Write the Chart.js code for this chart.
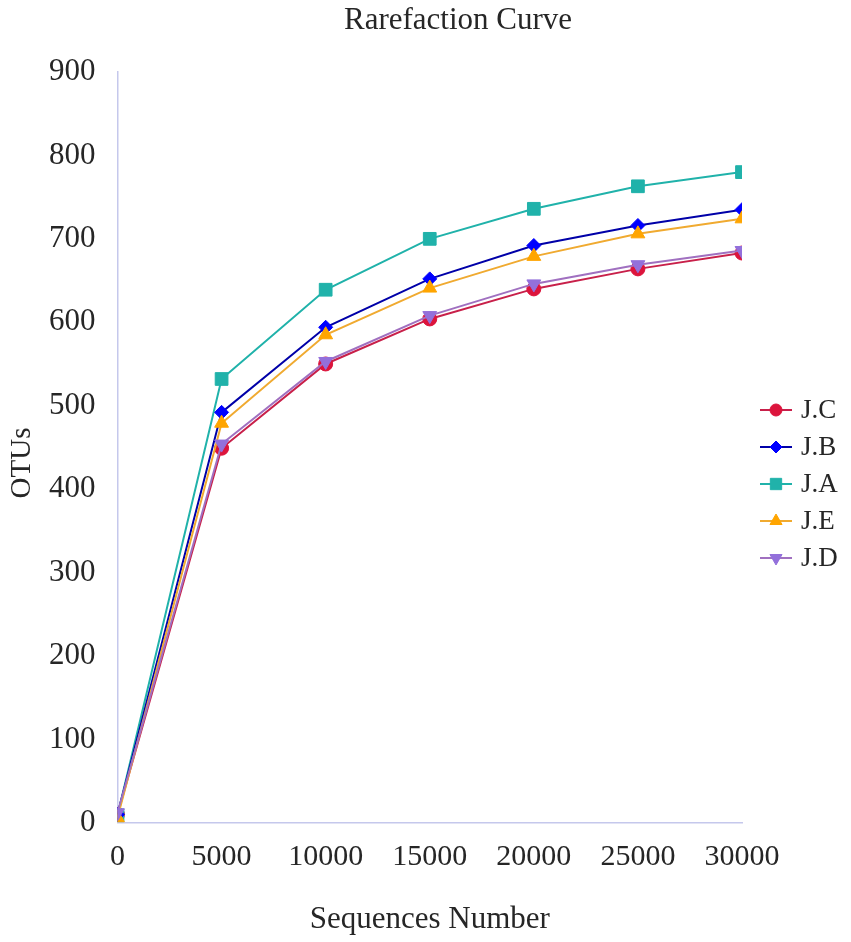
<!DOCTYPE html>
<html>
<head>
<meta charset="utf-8">
<script src="https://cdn.jsdelivr.net/npm/chart.js@4"></script>
<style>
    html, body { margin: 0; padding: 0; background: #fff; }
    #wrap { width: 851px; height: 942px; }
</style>
</head>
<body>
<div id="wrap"><canvas id="rarefactionChart" width="851" height="942"></canvas></div>
<script>
// sequencing depth (x axis)
const seqNumbers = [0, 5000, 10000, 15000, 20000, 25000, 30000];

// OTU counts per sample
const otuJC = [10, 449, 550, 604, 640, 664, 683];
const otuJB = [10, 492, 594, 652, 692, 716, 735];
const otuJA = [9, 532, 639, 700, 736, 763, 780];
const otuJE = [6, 479, 585, 641, 679, 706, 724];
const otuJD = [12, 454, 553, 608, 646, 669, 686];

const sampleNames = ["J.C", "J.B", "J.A", "J.E", "J.D"];
const yTicks = [0, 100, 200, 300, 400, 500, 600, 700, 800, 900];
const xTicks = seqNumbers;

const FONT = "'Liberation Serif', 'Times New Roman', serif";
const TEXT = "#262626";

function toPoints(values) {
    return seqNumbers.map((x, i) => ({ x, y: values[i] }));
}

/* ==========================
   TITLE, Y TITLE + LEGEND
========================== */
const decorations = {
    id: "decorations",
    afterDraw(chart) {
        const ctx = chart.ctx;
        const area = chart.chartArea;

        // title sits a bit right of centre, like the source figure
        ctx.save();
        ctx.fillStyle = TEXT;
        ctx.font = "31px " + FONT;
        ctx.textAlign = "center";
        ctx.textBaseline = "middle";
        ctx.fillText("Rarefaction Curve", 458, 21);

        ctx.translate(22, 463);
        ctx.rotate(-Math.PI / 2);
        ctx.font = "29px " + FONT;
        ctx.fillText("OTUs", 0, 0);
        ctx.restore();

        const x0 = area.right + 18;
        const startY = 410;
        const step = 37;
        chart.data.datasets.forEach((ds, i) => {
            const y = startY + i * step;
            ctx.save();
            ctx.strokeStyle = ds.borderColor;
            ctx.lineWidth = 2;
            ctx.beginPath();
            ctx.moveTo(x0, y);
            ctx.lineTo(x0 + 32, y);
            ctx.stroke();
            ctx.fillStyle = ds.pointBackgroundColor;
            ctx.strokeStyle = ds.pointBackgroundColor;
            ctx.lineWidth = 1;
            Chart.helpers.drawPoint(ctx, {
                pointStyle: ds.pointStyle,
                rotation: ds.pointRotation || 0,
                radius: ds.pointRadius - 1,
                borderWidth: 1
            }, x0 + 16, y);
            ctx.fillStyle = TEXT;
            ctx.font = "27px " + FONT;
            ctx.textBaseline = "middle";
            ctx.textAlign = "left";
            ctx.fillText(ds.label, x0 + 41, y + 1);
            ctx.restore();
        });
    }
};

function makeDataset(label, values, line, marker, style, radius, order, rotation) {
    return {
        label,
        data: toPoints(values),
        borderColor: line,
        backgroundColor: marker,
        pointBackgroundColor: marker,
        pointBorderColor: marker,
        pointStyle: style,
        pointRadius: radius,
        pointRotation: rotation || 0,
        pointBorderWidth: 1,
        borderWidth: 2,
        tension: 0,
        fill: false,
        order
    };
}

const chartEl = document.getElementById("rarefactionChart");

new Chart(chartEl.getContext("2d"), {
    type: "line",
    data: {
        datasets: [
            makeDataset(sampleNames[0], otuJC, "#C8204A", "#DC143C", "circle", 7, 4),
            makeDataset(sampleNames[1], otuJB, "#0000A8", "#0000FF", "rectRot", 7, 2),
            makeDataset(sampleNames[2], otuJA, "#20B2AA", "#20B2AA", "rect", 9, 3),
            makeDataset(sampleNames[3], otuJE, "#F0AA30", "#FFA500", "triangle", 8, 1),
            makeDataset(sampleNames[4], otuJD, "#A070C0", "#9370DB", "triangle", 8, 0, 180)
        ]
    },
    options: {
        responsive: false,
        animation: false,
        devicePixelRatio: 1,
        layout: { padding: { left: 27, right: 109, top: 72, bottom: 4 } },
        plugins: {
            legend: { display: false },
            tooltip: { enabled: false },
            title: { display: false }
        },
        scales: {
            x: {
                type: "linear",
                min: 0,
                max: 30000,
                afterBuildTicks: axis => { axis.ticks = xTicks.map(v => ({ value: v })); },
                grid: { display: false, drawTicks: false },
                border: { display: true, color: "#C5C8EC", width: 1.5 },
                ticks: {
                    color: TEXT,
                    font: { family: FONT, size: 30 },
                    padding: 16,
                    maxRotation: 0,
                    autoSkip: false,
                    callback: v => String(v)
                },
                title: {
                    display: true,
                    text: "Sequences Number",
                    color: TEXT,
                    font: { family: FONT, size: 31 },
                    padding: { top: 10, bottom: 0 }
                }
            },
            y: {
                min: 0,
                max: 900,
                afterBuildTicks: axis => { axis.ticks = yTicks.map(v => ({ value: v })); },
                grid: { display: false, drawTicks: false },
                border: { display: true, color: "#C5C8EC", width: 1.5 },
                ticks: {
                    color: TEXT,
                    font: { family: FONT, size: 31 },
                    padding: 22,
                    callback: v => String(v)
                }
            }
        }
    },
    plugins: [decorations]
});
</script>
</body>
</html>
